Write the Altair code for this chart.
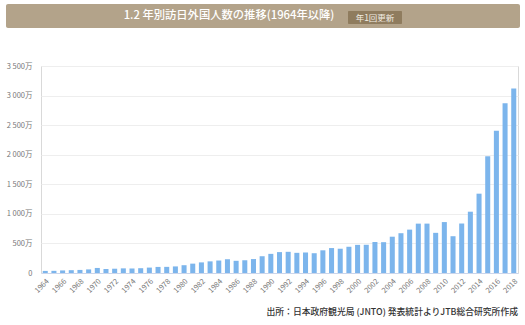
import altair as alt
import pandas as pd

years = [str(y) for y in range(1964, 2019)]
visitors = [35.3, 36.7, 43.3, 47.7, 51.9, 60.9, 85.4, 66.1, 72.4, 78.5,
            76.4, 81.2, 91.5, 102.8, 103.9, 111.3, 131.7, 158.3, 179.3, 196.8,
            211.0, 232.7, 206.2, 215.5, 235.5, 283.5, 323.6, 353.3, 358.2, 341.0,
            346.8, 334.5, 383.7, 421.8, 410.6, 443.8, 475.7, 477.2, 523.9, 521.2,
            613.8, 672.8, 733.4, 834.7, 835.1, 679.0, 861.1, 621.9, 836.8, 1036.4,
            1341.3, 1973.7, 2403.9, 2869.1, 3119.2]
y_ticks = [0, 500, 1000, 1500, 2000, 2500, 3000, 3500]

title_text = "1.2 年別訪日外国人数の推移(1964年以降)"
badge_text = "年1回更新"
source_text = "出所：日本政府観光局 (JNTO) 発表統計よりJTB総合研究所作成"

df = pd.DataFrame({"year": years, "value": visitors})
FONT = "Noto Sans CJK JP"

bars = alt.Chart(df).mark_bar(color="#7cb5ec").encode(
    x=alt.X("year:O", sort=years,
            scale=alt.Scale(paddingInner=0.42, paddingOuter=0.2),
            axis=alt.Axis(title=None, labelAngle=-45, labelFontSize=7.5,
                          labelColor="#777", labelFont=FONT, ticks=False,
                          domainColor="#ccd6eb", labelPadding=4,
                          labelExpr="toNumber(datum.value) % 2 == 0 ? datum.label : ''")),
    y=alt.Y("value:Q", scale=alt.Scale(domain=[0, 3500], nice=False),
            axis=alt.Axis(title=None, values=y_ticks, labelFontSize=7.5,
                          labelColor="#777", labelFont=FONT, ticks=False, domain=False,
                          gridColor="#eeeeee", labelPadding=9,
                          labelExpr="datum.value == 0 ? '0' : replace(format(datum.value, ','), ',', ' ') + '万'")),
)

one = alt.Data(values=[{}])

banner = alt.Chart(one).mark_rect(color="#b3a38a", cornerRadius=2).encode(
    x=alt.value(-35), x2=alt.value(479), y=alt.value(-62), y2=alt.value(-38))
title = alt.Chart(one).mark_text(text=title_text, font=FONT, fontSize=11.3,
                                 fontWeight=500, color="white", align="center",
                                 baseline="middle").encode(
    x=alt.value(188), y=alt.value(-50))
badge = alt.Chart(one).mark_rect(color="#8f7c5e", cornerRadius=1).encode(
    x=alt.value(307), x2=alt.value(361), y=alt.value(-55), y2=alt.value(-42))
badge_t = alt.Chart(one).mark_text(text=badge_text, font=FONT, fontSize=8.5,
                                   color="#f2ede4", align="center",
                                   baseline="middle").encode(
    x=alt.value(334), y=alt.value(-48.5))
source = alt.Chart(one).mark_text(text=source_text, font=FONT, fontSize=8.8,
                                  fontWeight=500, color="#333", align="right",
                                  baseline="middle").encode(
    x=alt.value(477), y=alt.value(246))

chart = alt.layer(bars, banner, title, badge, badge_t, source).properties(
    width=477, height=207,
    autosize=alt.AutoSizeParams(type="none"),
    padding={"left": 41, "top": 66, "right": 7, "bottom": 52},
    background="white",
).configure_view(stroke="#d9d9d9")

chart.save("out.html", embed_options={"renderer": "svg", "actions": False})
